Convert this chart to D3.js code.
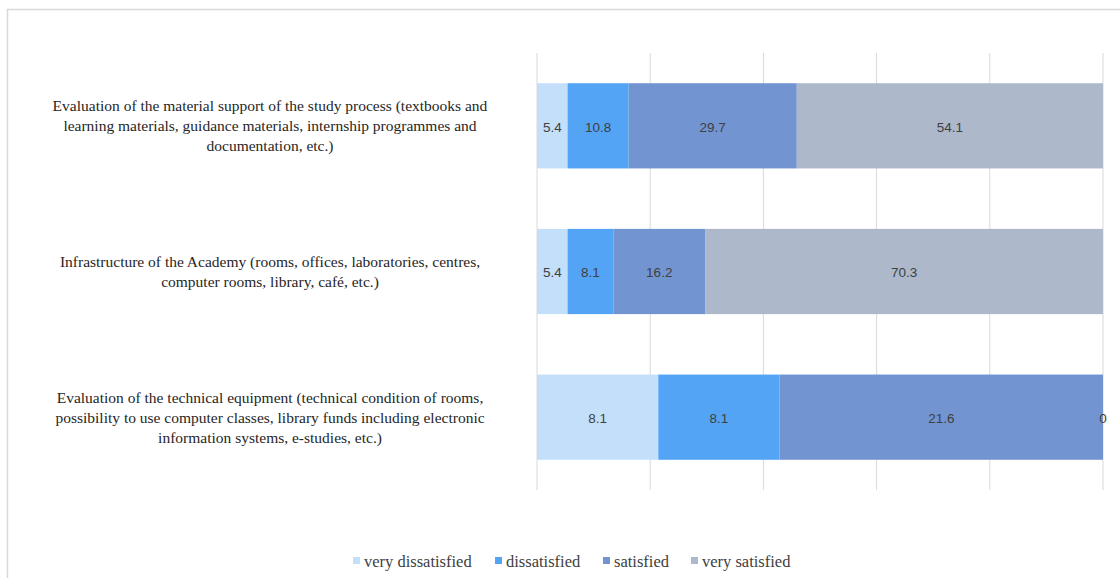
<!DOCTYPE html>
<html>
<head>
<meta charset="utf-8">
<script src="https://cdn.jsdelivr.net/npm/d3@7/dist/d3.min.js"></script>
<style>
  html, body { margin: 0; padding: 0; background: #ffffff; }
  svg { display: block; }
</style>
</head>
<body>
<svg id="chart" width="1120" height="578"></svg>
<script>
// Survey items, top to bottom; each label is pre-broken into its lines
const categories = [
  ["Evaluation of the material support of the study process (textbooks and",
   "learning materials, guidance materials, internship programmes and",
   "documentation, etc.)"],
  ["Infrastructure of the Academy (rooms, offices, laboratories, centres,",
   "computer rooms, library, café, etc.)"],
  ["Evaluation of the technical equipment (technical condition of rooms,",
   "possibility to use computer classes, library funds including electronic",
   "information systems, e-studies, etc.)"]
];
const seriesNames = ["very dissatisfied", "dissatisfied", "satisfied", "very satisfied"];
const verySatisfied = [54.1, 70.3, 0];
const veryDissatisfied = [5.4, 5.4, 8.1];
const dissatisfied = [10.8, 8.1, 8.1];
const satisfied = [29.7, 16.2, 21.6];
const gridTicks = [0, 0.2, 0.4, 0.6, 0.8, 1];
const colors = ["#c4dff9", "#53a4f5", "#7295d2", "#adb8ca"];

const rows = categories.map((c, i) => ({
  idx: i,
  "very dissatisfied": veryDissatisfied[i],
  "dissatisfied": dissatisfied[i],
  "satisfied": satisfied[i],
  "very satisfied": verySatisfied[i]
}));

const svg = d3.select("#chart");

// outer chart frame (top and left edges visible)
svg.append("path")
  .attr("d", "M7.5,578 L7.5,9.5 L1120,9.5")
  .attr("fill", "none")
  .attr("stroke", "#d9d9d9")
  .attr("stroke-width", 1.5);

const x = d3.scaleLinear().domain([0, 1]).range([537, 1103]);
const y = d3.scaleBand().domain(rows.map(r => r.idx)).range([53, 490])
  .paddingInner(0.415).paddingOuter(0.2075);

// vertical gridlines
svg.append("g").selectAll("line").data(gridTicks).join("line")
  .attr("x1", d => x(d)).attr("x2", d => x(d))
  .attr("y1", 53).attr("y2", 490)
  .attr("stroke", "#d9d9d9").attr("stroke-width", 1);

// 100% stacked segments
const stacked = d3.stack().keys(seriesNames).offset(d3.stackOffsetExpand)(rows);

const layers = svg.append("g").selectAll("g").data(stacked).join("g")
  .attr("fill", (d, i) => colors[i]);

layers.selectAll("rect").data(d => d).join("rect")
  .attr("x", d => x(d[0]))
  .attr("width", d => x(d[1]) - x(d[0]))
  .attr("y", d => y(d.data.idx))
  .attr("height", y.bandwidth());

// value labels centred in each segment
const labels = svg.append("g")
  .attr("font-family", "'Liberation Sans', Arial, sans-serif")
  .attr("font-size", 13.5)
  .attr("fill", "#404040")
  .attr("text-anchor", "middle");

stacked.forEach(layer => {
  layer.forEach(d => {
    labels.append("text")
      .attr("x", x((d[0] + d[1]) / 2))
      .attr("y", y(d.data.idx) + y.bandwidth() / 2 + 1)
      .attr("dy", "0.35em")
      .text(d.data[layer.key]);
  });
});

// category labels on the left
const catG = svg.append("g")
  .attr("font-family", "'Liberation Serif', 'Times New Roman', serif")
  .attr("font-size", 15.5)
  .attr("fill", "#262626")
  .attr("text-anchor", "middle");

categories.forEach((lines, i) => {
  const cy = y(i) + y.bandwidth() / 2;
  const lh = 20;
  const top = cy - (lines.length - 1) * lh / 2;
  const t = catG.append("text").attr("x", 270);
  lines.forEach((ln, j) => {
    t.append("tspan").attr("x", 270).attr("y", top + j * lh).attr("dy", "0.35em").text(ln);
  });
});

// legend
const legendX = [353, 495, 603, 691];
const leg = svg.append("g")
  .attr("font-family", "'Liberation Serif', 'Times New Roman', serif")
  .attr("font-size", 16.5)
  .attr("fill", "#404040");
seriesNames.forEach((name, i) => {
  leg.append("rect")
    .attr("x", legendX[i]).attr("y", 557)
    .attr("width", 7).attr("height", 7)
    .attr("fill", colors[i]);
  leg.append("text")
    .attr("x", legendX[i] + 11).attr("y", 561)
    .attr("dy", "0.35em")
    .text(name);
});
</script>
</body>
</html>
